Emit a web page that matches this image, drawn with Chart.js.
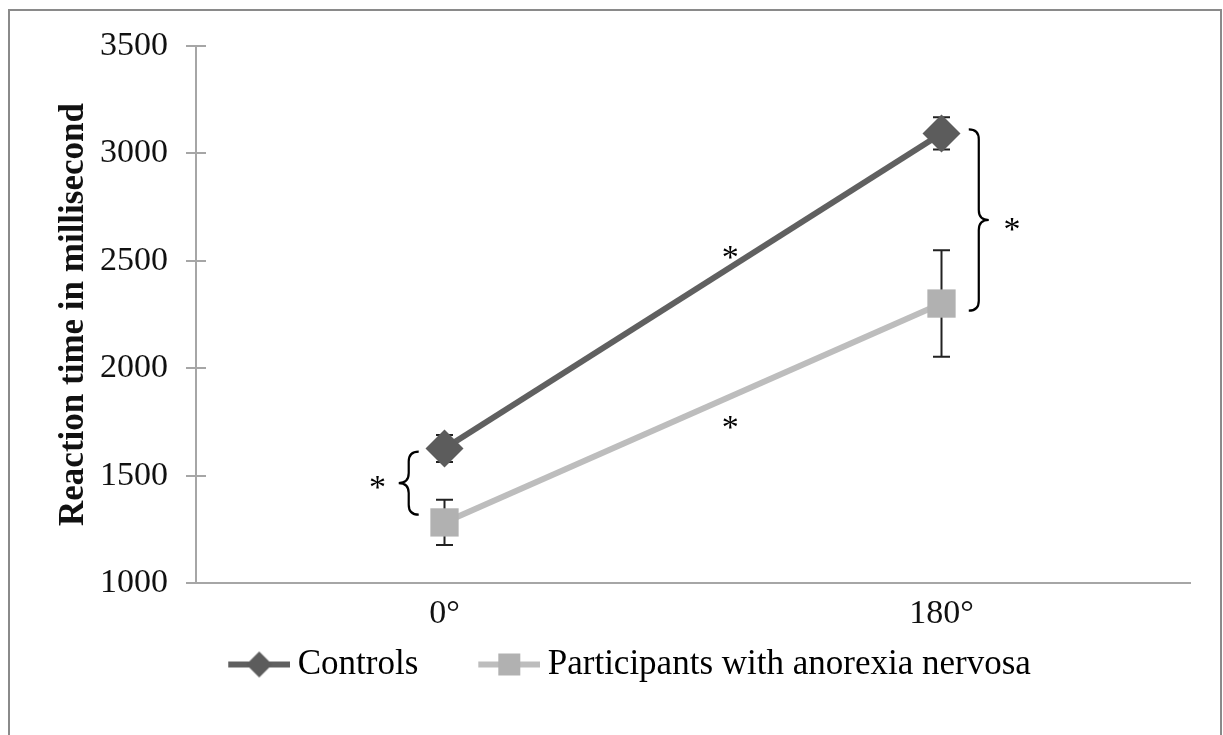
<!DOCTYPE html>
<html>
<head>
<meta charset="utf-8">
<script src="https://cdn.jsdelivr.net/npm/chart.js@4.4.0/dist/chart.umd.min.js"></script>
<style>
  html, body { margin: 0; padding: 0; background: #fff; }
  #wrap { width: 1223px; height: 735px; position: relative; }
</style>
</head>
<body>
<div id="wrap"><canvas id="c" width="1223" height="735"></canvas></div>
<script>
// Rotation angle conditions
const categories = ['0°', '180°'];
// Mean reaction time (ms) and error bar half-lengths per group
const controls = [1626, 3093];
const controlsErr = [63, 75];
const anorexia = [1282, 2301];
const anorexiaErr = [105, 248];
// Axis ticks
const yTicks = [1000, 1500, 2000, 2500, 3000, 3500];

const FONT = "'Liberation Serif', 'Times New Roman', serif";
const AXIS_GRAY = '#a6a6a6';
const DARK = '#606060';
const LIGHT = '#bdbdbd';
const LIGHT_MARK = '#b1b1b1';

// Significance annotations (x in category index units, y in ms)
const stars = [
  { x: 0.575, y: 2540 },
  { x: 0.575, y: 1750 },
  { x: -0.135, y: 1468 },
  { x: 1.142, y: 2670 }
];
const braces = [
  { x: -0.072, from: 1612, to: 1318, dir: -1 },
  { x: 1.075, from: 3112, to: 2268, dir: 1 }
];

// Legend sample: a line with the series marker; the left part of the
// image is left transparent so it also spaces the legend entries apart.
const LEGEND_BOX = 108;
const SWATCH_W = LEGEND_BOX + 20;
function legendSwatch(lineColor, markColor, shape) {
  const c = document.createElement('canvas');
  c.width = SWATCH_W; c.height = 30;
  const g = c.getContext('2d');
  const x0 = SWATCH_W - 62, cx = SWATCH_W - 31;
  g.strokeStyle = lineColor; g.lineWidth = 6;
  g.beginPath(); g.moveTo(x0, 15); g.lineTo(SWATCH_W, 15); g.stroke();
  g.fillStyle = markColor;
  if (shape === 'diamond') {
    g.beginPath(); g.moveTo(cx, 2); g.lineTo(cx + 13, 15); g.lineTo(cx, 28); g.lineTo(cx - 13, 15); g.closePath(); g.fill();
  } else {
    g.fillRect(cx - 11, 4, 22, 22);
  }
  return c;
}

const errorBars = {
  id: 'errorBars',
  beforeDatasetsDraw(chart) {
    const { ctx } = chart;
    const xs = chart.scales.x, ys = chart.scales.y;
    const sets = [[controls, controlsErr], [anorexia, anorexiaErr]];
    ctx.save();
    ctx.strokeStyle = '#222';
    ctx.lineWidth = 2;
    sets.forEach(([vals, errs]) => {
      vals.forEach((v, i) => {
        const x = xs.getPixelForValue(i);
        const yt = ys.getPixelForValue(v + errs[i]);
        const yb = ys.getPixelForValue(v - errs[i]);
        ctx.beginPath();
        ctx.moveTo(x, yt); ctx.lineTo(x, yb);
        ctx.moveTo(x - 8.5, yt); ctx.lineTo(x + 8.5, yt);
        ctx.moveTo(x - 8.5, yb); ctx.lineTo(x + 8.5, yb);
        ctx.stroke();
      });
    });
    ctx.restore();
  }
};

const decorations = {
  id: 'decorations',
  beforeDraw(chart) {
    const { ctx } = chart;
    ctx.save();
    ctx.strokeStyle = '#8a8a8a';
    ctx.lineWidth = 2;
    ctx.strokeRect(9, 10, 1212, 740);
    ctx.restore();
  },
  afterDraw(chart) {
    const { ctx } = chart;
    const xs = chart.scales.x, ys = chart.scales.y;
    ctx.save();
    // inner half of the y-axis tick marks
    ctx.strokeStyle = AXIS_GRAY; ctx.lineWidth = 2;
    yTicks.forEach(t => {
      const y = Math.round(ys.getPixelForValue(t));
      ctx.beginPath(); ctx.moveTo(xs.left, y); ctx.lineTo(xs.left + 10, y); ctx.stroke();
    });
    // braces
    ctx.strokeStyle = '#000'; ctx.lineWidth = 2.2;
    braces.forEach(b => {
      const x = xs.getPixelForValue(b.x);
      const y1 = ys.getPixelForValue(b.from);
      const y2 = ys.getPixelForValue(b.to);
      const ym = (y1 + y2) / 2;
      const w = 10;
      ctx.beginPath();
      ctx.moveTo(x - b.dir * w, y1);
      ctx.quadraticCurveTo(x, y1, x, y1 + w);
      ctx.lineTo(x, ym - w);
      ctx.quadraticCurveTo(x, ym, x + b.dir * w, ym);
      ctx.quadraticCurveTo(x, ym, x, ym + w);
      ctx.lineTo(x, y2 - w);
      ctx.quadraticCurveTo(x, y2, x - b.dir * w, y2);
      ctx.stroke();
    });
    // asterisks
    ctx.fillStyle = '#000';
    ctx.font = '34px ' + FONT;
    ctx.textAlign = 'center';
    ctx.textBaseline = 'alphabetic';
    stars.forEach(s => {
      ctx.fillText('*', xs.getPixelForValue(s.x), ys.getPixelForValue(s.y) + 16);
    });
    ctx.restore();
  }
};

new Chart(document.getElementById('c'), {
  type: 'line',
  data: {
    labels: categories,
    datasets: [
      {
        label: 'Controls',
        data: controls,
        borderColor: DARK,
        backgroundColor: DARK,
        borderWidth: 6,
        pointStyle: 'rectRot',
        pointRadius: 19,
        pointHoverRadius: 19,
        pointBackgroundColor: '#5c5c5c',
        pointBorderWidth: 0,
        tension: 0
      },
      {
        label: 'Participants with anorexia nervosa',
        data: anorexia,
        borderColor: LIGHT,
        backgroundColor: LIGHT_MARK,
        borderWidth: 6,
        pointStyle: 'rect',
        pointRadius: 20,
        pointHoverRadius: 20,
        pointBackgroundColor: LIGHT_MARK,
        pointBorderWidth: 0,
        tension: 0
      }
    ]
  },
  options: {
    responsive: false,
    animation: false,
    events: [],
    layout: { padding: { left: 13, right: 33, top: 46, bottom: 43 } },
    scales: {
      x: {
        offset: true,
        grid: { display: false, drawTicks: false, tickLength: 0 },
        border: { display: true, color: AXIS_GRAY, width: 2 },
        ticks: { color: '#111', font: { family: FONT, size: 34 }, padding: 11 },
        afterFit(s) { s.height = 60; }
      },
      y: {
        min: 1000,
        max: 3500,
        afterBuildTicks(s) { s.ticks = yTicks.map(v => ({ value: v })); },
        grid: { display: true, drawOnChartArea: false, drawTicks: true, tickLength: 10, color: AXIS_GRAY, lineWidth: 2 },
        border: { display: true, color: AXIS_GRAY, width: 2 },
        ticks: {
          color: '#111',
          font: { family: FONT, size: 34 },
          padding: 18,
          callback: v => String(v)
        },
        title: {
          display: true,
          text: 'Reaction time in millisecond',
          color: '#111',
          font: { family: FONT, size: 35, weight: 'bold' },
          padding: { top: 40, bottom: 0 }
        },
        afterFit(s) { s.width = 183; }
      }
    },
    plugins: {
      tooltip: { enabled: false },
      legend: {
        position: 'bottom',
        labels: {
          usePointStyle: true,
          pointStyleWidth: LEGEND_BOX,
          padding: 4,
          color: '#111',
          font: { family: FONT, size: 35 },
          generateLabels() {
            return [
              { text: 'Controls', pointStyle: legendSwatch(DARK, '#5c5c5c', 'diamond'), hidden: false, datasetIndex: 0, lineWidth: 0 },
              { text: 'Participants with anorexia nervosa', pointStyle: legendSwatch(LIGHT, LIGHT_MARK, 'square'), hidden: false, datasetIndex: 1, lineWidth: 0 }
            ];
          }
        }
      }
    }
  },
  plugins: [errorBars, decorations]
});
</script>
</body>
</html>
